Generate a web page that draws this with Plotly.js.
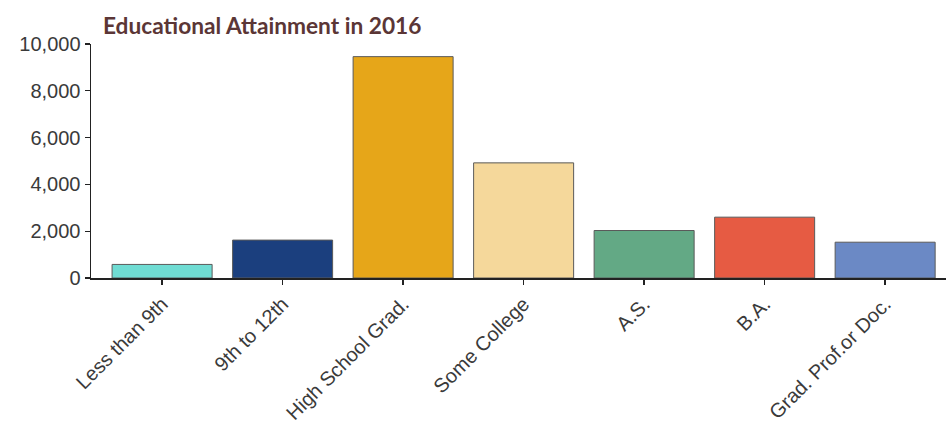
<!DOCTYPE html>
<html>
<head>
<meta charset="utf-8">
<script src="https://cdn.plot.ly/plotly-3.0.1.min.js"></script>
<style>html,body{margin:0;padding:0;background:#fff;}#chart{width:946px;height:429px;}</style>
</head>
<body>
<div id="chart"></div>
<script>
var categories = ["Less than 9th", "9th to 12th", "High School Grad.", "Some College", "A.S.", "B.A.", "Grad. Prof.or Doc."];
var values = [580, 1620, 9460, 4920, 2030, 2600, 1530];
var barColors = ["#6fdcd3", "#1b3f7e", "#e6a619", "#f5d89b", "#63a985", "#e65b43", "#6b89c5"];
var yTicks = [0, 2000, 4000, 6000, 8000, 10000];

var trace = {
  type: "bar",
  x: categories,
  y: values,
  marker: {color: barColors, line: {color: "#5a5a5a", width: 1}},
  hoverinfo: "x+y"
};

var layout = {
  width: 946, height: 429,
  margin: {l: 91, r: 0, t: 44, b: 151, pad: 0},
  paper_bgcolor: "#fff", plot_bgcolor: "#fff",
  showlegend: false,
  bargap: 0.17,
  title: {
    text: "<b>Educational Attainment in 2016</b>",
    font: {family: "Lato, Open Sans, sans-serif", size: 22.7, color: "#5b3636"},
    x: 0.014, xanchor: "left", xref: "paper",
    y: 0.94, yanchor: "middle"
  },
  xaxis: {
    type: "category",
    range: [-0.59, 6.505],
    tickangle: -45,
    ticks: "outside", ticklen: 5, tickcolor: "#222", tickwidth: 1.3,
    showline: true, linecolor: "#222", linewidth: 1.5,
    showgrid: false, zeroline: false,
    tickfont: {family: "Liberation Sans, Arial, sans-serif", size: 20, color: "#3a3a3a"}
  },
  yaxis: {
    range: [0, 10000],
    tickvals: yTicks,
    tickformat: ",",
    ticks: "outside", ticklen: 5, tickcolor: "#222", tickwidth: 1.3,
    showline: true, linecolor: "#222", linewidth: 1.5,
    showgrid: false, zeroline: false,
    tickfont: {family: "Liberation Sans, Arial, sans-serif", size: 20, color: "#3a3a3a"}
  },
  shapes: [{
    type: "line", xref: "paper", yref: "paper",
    x0: -0.006, x1: 0, y0: 0, y1: 0,
    line: {color: "#222", width: 1.5}
  }]
};

Plotly.newPlot("chart", [trace], layout, {displayModeBar: false, staticPlot: true});
</script>
</body>
</html>
